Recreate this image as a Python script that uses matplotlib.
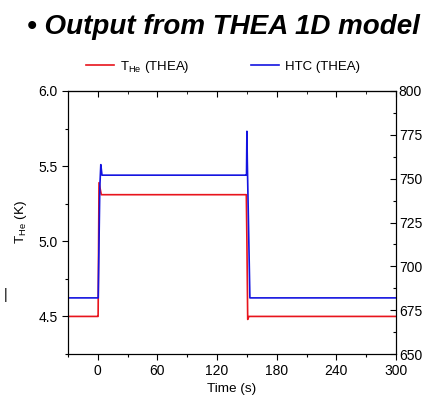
import numpy as np
import matplotlib.pyplot as plt
from matplotlib.ticker import MultipleLocator

plt.rcParams['font.family'] = ['Liberation Sans', 'DejaVu Sans']

# Données (sortie THEA 1D)
temps_the = [-30, 0.0, 0.3, 1.2, 3.5, 149.4, 150.0, 150.8, 152.0, 300]
t_he = [4.5, 4.5, 4.5, 5.39, 5.31, 5.31, 5.0, 4.48, 4.5, 4.5]

temps_htc = [-30, 0.2, 0.4, 2.0, 3.0, 4.2, 149.2, 149.6, 150.0, 150.4, 153.0, 300]
htc = [682, 682, 682, 745, 758, 752, 752, 752, 777, 760, 682, 682]

fig = plt.figure(figsize=(4.27, 4.03), dpi=100)
ax = fig.add_axes([68 / 427, 1 - 354 / 403, 328 / 427, 263 / 403])
ax2 = ax.twinx()

l1, = ax.plot(temps_the, t_he, color='#e8141c', lw=1.2, label=r'T$_{\mathregular{He}}$ (THEA)')
l2, = ax2.plot(temps_htc, htc, color='#1414e0', lw=1.2, label='HTC (THEA)')

ax.set_xlim(-30, 300)
ax.set_ylim(4.25, 6.0)
ax2.set_ylim(650, 800)

ax.xaxis.set_major_locator(MultipleLocator(60))
ax.xaxis.set_minor_locator(MultipleLocator(30))
ax.yaxis.set_major_locator(MultipleLocator(0.5))
ax.yaxis.set_minor_locator(MultipleLocator(0.25))
ax.yaxis.set_major_formatter(plt.FormatStrFormatter('%.1f'))
ax2.yaxis.set_major_locator(MultipleLocator(25))
ax2.yaxis.set_minor_locator(MultipleLocator(12.5))

ax.tick_params(axis='both', which='major', labelsize=10, length=4, width=0.8)
ax.tick_params(axis='both', which='minor', length=2, width=0.8)
ax.tick_params(axis='x', which='both', direction='out', top=False)
ax2.tick_params(axis='y', which='major', direction='in', labelsize=10, length=4, width=0.8, pad=2)
ax2.tick_params(axis='y', which='minor', direction='in', length=2, width=0.8)

# ticks du haut vers l'intérieur
ax_top = ax.secondary_xaxis('top')
ax_top.xaxis.set_major_locator(MultipleLocator(60))
ax_top.xaxis.set_minor_locator(MultipleLocator(30))
ax_top.tick_params(which='major', direction='in', length=4, labeltop=False)
ax_top.tick_params(which='minor', direction='in', length=2)

ax.set_xlabel('Time (s)', fontsize=9.7, labelpad=3)
ax.set_ylabel(r'T$_{\mathregular{He}}$ (K)', fontsize=9.7, labelpad=7)

fig.legend(handles=[l1, l2], loc='center left', bbox_to_anchor=(86 / 427, 1 - 67 / 403),
           ncol=2, frameon=False, fontsize=9.5, handlelength=2.1, columnspacing=4.7,
           handletextpad=0.45, borderpad=0, borderaxespad=0)

fig.text(27 / 427, 1 - 27 / 403, '\u2022 Output from THEA 1D model', fontsize=20,
         fontweight='bold', fontstyle='italic', va='center', ha='left')
fig.text(6 / 427, 1 - 295 / 403, '|', fontsize=10, va='center', ha='center')

fig.savefig('out.png', dpi=100)
